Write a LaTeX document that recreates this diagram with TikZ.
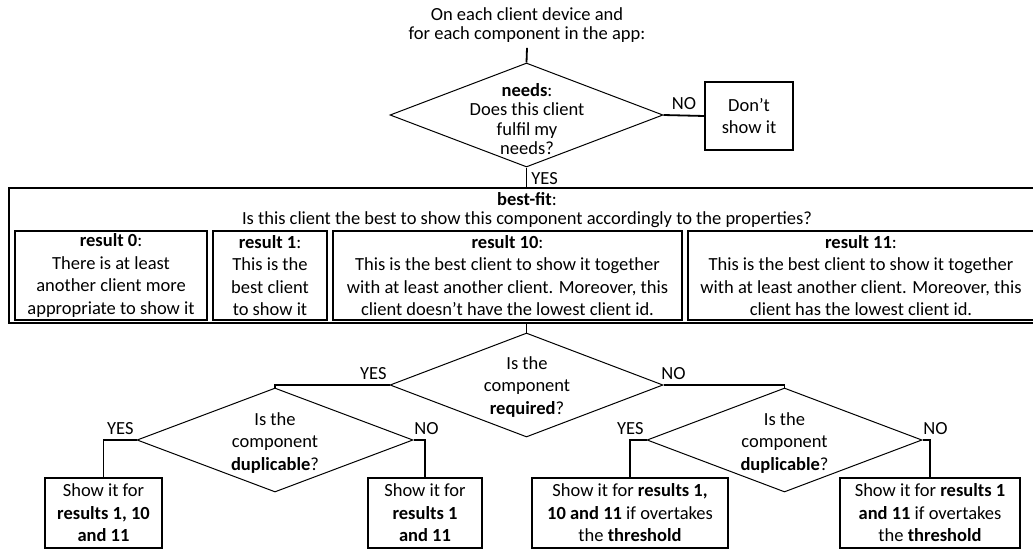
\documentclass[tikz,border=0pt]{standalone}
\usepackage{fontspec}
\setmainfont{Carlito}
\usetikzlibrary{shapes.geometric}
\begin{document}
\begin{tikzpicture}
    [x=1pt, y=-1pt,
    every node/.style={font=\fontsize{18.5}{22.5}\selectfont, align=center, inner sep=0pt},
    tight/.style={font=\fontsize{18.5}{19.5}\selectfont},
    decision/.style={draw, diamond, line width=1pt, minimum width=#1, minimum height=104pt},
    decision/.default=273pt,
    frame/.style={draw, line width=1.1pt},
    link/.style={line width=1.8pt},
    tagl/.style={anchor=south east, yshift=4pt},
    tagr/.style={anchor=south west, yshift=4pt}]
    \clip (0,0) rectangle (1033,549);
    \node[tight, inner sep=5pt] (title) at (527,25) {On each client device and\\for each component in the app:};
    \node[decision] (needs) at (526.5,115) {};
    \node[tight] (needstxt) at (527,119) {\textbf{needs}:\\Does this client\\fulfil my\\needs?};
    \node[frame, minimum width=88pt, minimum height=68pt] (dontshow) at (749,116) {Don’t\\show it};
    \draw[link] (title.south) -- (needs.north);
    \draw[link] (needs.east) -- node[midway, above, yshift=5pt] {NO} (dontshow.west);
    % best-fit block
    \node[frame, minimum width=1031pt, minimum height=135pt] (bestfit) at (524.5,255.5) {};
    \node[tight] (fittxt) at (527,210) {\textbf{best-fit}:\\Is this client the best to show this component accordingly to the properties?};
    \node[frame, minimum width=192pt, minimum height=89pt] (res0) at (111,275.5)
      {\textbf{result 0}:\\There is at least\\another client more\\appropriate to show it};
    \node[frame, minimum width=114pt, minimum height=89pt] (res1) at (270,275.5)
      {\textbf{result 1}:\\This is the\\best client\\to show it};
    \node[frame, minimum width=349pt, minimum height=89pt] (res10) at (507.5,275.5)
      {\textbf{result 10}:\\This is the best client to show it together\\with at least another client. Moreover, this\\client doesn’t have the lowest client id.};
    \node[frame, minimum width=346pt, minimum height=89pt] (res11) at (861,275.5)
      {\textbf{result 11}:\\This is the best client to show it together\\with at least another client. Moreover, this\\client has the lowest client id.};
    \draw[link] (needs.south) -- (needs.south |- bestfit.north)
      node[anchor=south west, xshift=4pt, yshift=2pt] {YES};
    % second level
    \node[decision] (required) at (526.5,385) {};
    \node (requiredtxt) at (527,387) {Is the\\component\\\textbf{required}?};
    \node[decision=276pt] (dupl) at (275,440) {};
    \node (dupltxt) at (275,443) {Is the\\component\\\textbf{duplicable}?};
    \node[decision=275pt] (dupr) at (784.5,440) {};
    \node (duprtxt) at (784.5,443) {Is the\\component\\\textbf{duplicable}?};
    \node[frame, minimum width=117pt, minimum height=70pt] (show1) at (103.5,513)
      {Show it for\\\textbf{results 1, 10}\\\textbf{and 11}};
    \node[frame, minimum width=114pt, minimum height=70pt] (show2) at (425,513)
      {Show it for\\\textbf{results 1}\\\textbf{and 11}};
    \node[frame, minimum width=196pt, minimum height=70pt] (show3) at (630,513)
      {Show it for \textbf{results 1,}\\\textbf{10 and 11} if overtakes\\the \textbf{threshold}};
    \node[frame, minimum width=180pt, minimum height=70pt] (show4) at (930,513)
      {Show it for \textbf{results 1}\\\textbf{and 11} if overtakes\\the \textbf{threshold}};
    \draw[link] (required.north |- bestfit.south) -- (required.north);
    \draw[link] (required.west) node[tagl, xshift=-2pt] {YES} -| (dupl.north);
    \draw[link] (required.east) node[tagr, xshift=-3pt] {NO} -| (dupr.north);
    \draw[link] (dupl.west) node[tagl, xshift=-2pt] {YES} -| (show1.north);
    \draw[link] (dupl.east) node[tagr] {NO} -| (show2.north);
    \draw[link] (dupr.west) node[tagl, xshift=-2pt] {YES} -| (show3.north);
    \draw[link] (dupr.east) node[tagr] {NO} -| (show4.north);
\end{tikzpicture}
\end{document}
